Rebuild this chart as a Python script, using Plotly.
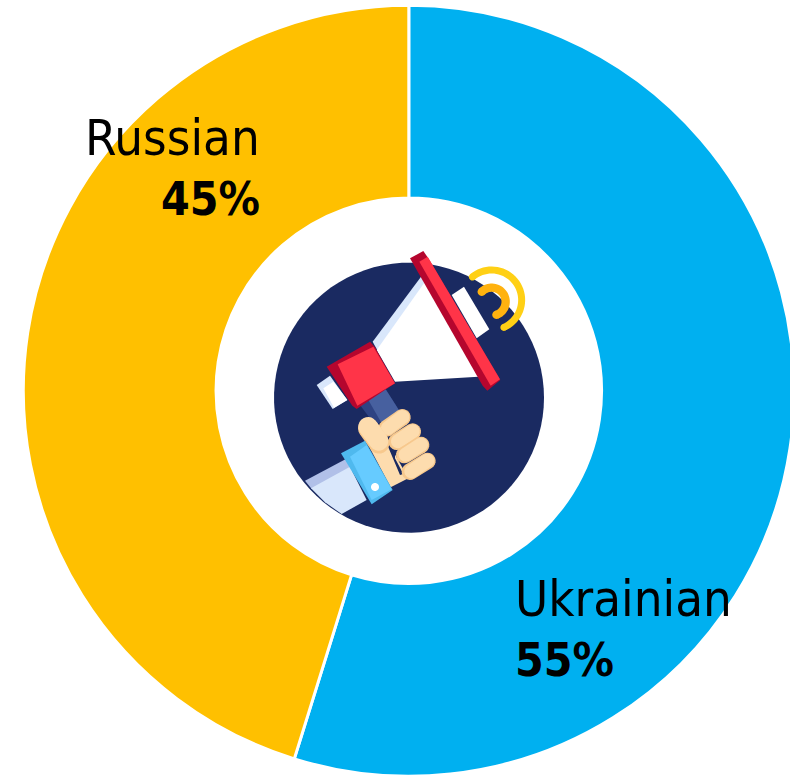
import numpy as np
import plotly.graph_objects as go

languages = ["Ukrainian", "Russian"]
shares = [54.8, 45.2]
share_labels = ["55%", "45%"]
colors = ["#00B0F0", "#FFC000"]

W, H = 796, 778
CX, CY, R = 408.8, 390.8, 385.5
FONT = "DejaVu Sans Condensed, DejaVu Sans"
FS = 50.5
FS_BOLD = 46

def px(x): return x / W
def py(y): return 1 - y / H
def zp(p): return (260 + p[0] / 3, 240 + p[1] / 3)

shapes = []
def poly(points, color):
    pts = [zp(p) for p in points]
    d = "M " + " L ".join(f"{px(x):.5f},{py(y):.5f}" for x, y in pts) + " Z"
    shapes.append(dict(type="path", xref="paper", yref="paper", path=d,
                       fillcolor=color, line=dict(width=0), layer="above"))

def capsule(x1, y1, x2, y2, w, color):
    a = np.arctan2(y2 - y1, x2 - x1)
    t1 = np.linspace(a + np.pi / 2, a + 3 * np.pi / 2, 12)
    t2 = np.linspace(a - np.pi / 2, a + np.pi / 2, 12)
    pts = [(x1 + w / 2 * np.cos(t), y1 + w / 2 * np.sin(t)) for t in t1]
    pts += [(x2 + w / 2 * np.cos(t), y2 + w / 2 * np.sin(t)) for t in t2]
    poly(pts, color)

def arc(cx, cy, r, a0, a1, w, color):
    t = np.radians(np.linspace(a0, a1, 40))
    outer = [(cx + (r + w / 2) * np.cos(v), cy + (r + w / 2) * np.sin(v)) for v in t]
    inner = [(cx + (r - w / 2) * np.cos(v), cy + (r - w / 2) * np.sin(v)) for v in t[::-1]]
    poly(outer + inner, color)
    for v in (t[0], t[-1]):
        capsule(cx + r * np.cos(v), cy + r * np.sin(v), cx + r * np.cos(v) + .1, cy + r * np.sin(v), w, color)

def disc(cx, cy, r, color):
    t = np.linspace(0, 2 * np.pi, 90)[:-1]
    poly([(cx + r * np.cos(v), cy + r * np.sin(v)) for v in t], color)

NAVY = "#1A2A61"
disc(447, 473, 405, NAVY)

# waves
arc(695, 180, 90, -130, 66, 21, "#FFD015")
arc(695, 185, 42, -135, 70, 25, "#FFB20F")

# sleeve (follows the disc edge)
poly([(135, 722), (262, 655), (285, 690), (155, 747)], "#B1C0E8")
poly([(153, 745), (270, 680), (320, 780), (245, 822), (195, 787)], "#D9E7FB")

# handle
poly([(300, 495), (375, 445), (420, 515), (345, 555)], "#2E4383")
poly([(325, 480), (375, 445), (420, 515), (365, 550)], "#47609F")

# horn
poly([(492, 98), (338, 305), (360, 345), (505, 130)], "#D9E7FB")
poly([(495, 125), (655, 410), (405, 425), (350, 330)], "#FFFFFF")
poly([(575, 165), (612, 140), (688, 268), (650, 295)], "#FFFFFF")
poly([(170, 435), (210, 407), (262, 480), (218, 507)], "#D9E7FB")
poly([(190, 445), (220, 425), (262, 480), (222, 503)], "#FFFFFF")

# rim
poly([(450, 55), (490, 33), (505, 55), (721, 420), (682, 452), (668, 437)], "#B5062E")
poly([(478, 65), (503, 50), (720, 418), (692, 437)], "#FF3448")

# speaker
poly([(200, 380), (330, 305), (345, 322), (405, 430), (290, 507), (277, 497)], "#B5062E")
poly([(233, 373), (340, 320), (405, 430), (292, 497)], "#FF3448")

# hand
poly([(330, 625), (375, 590), (445, 715), (392, 742)], "#FDDCAE")
poly([(378, 605), (405, 630), (405, 655), (430, 702), (420, 705)], NAVY)
for x1, y1, x2, y2 in [(380, 565, 427, 532), (410, 605, 458, 575),
                       (433, 645, 483, 615), (450, 695, 502, 663)]:
    capsule(x1, y1, x2, y2, 50, "#F7C88D")
    capsule(x1 + 4, y1 - 1, x2, y2 - 1, 42, "#FDDCAE")
capsule(325, 565, 357, 610, 62, "#F7C88D")
capsule(324, 560, 356, 603, 58, "#FDDCAE")

# cuff
poly([(243, 640), (315, 602), (398, 750), (335, 793)], "#4FB9EE")
poly([(270, 650), (320, 615), (395, 748), (335, 780)], "#66CBFF")
disc(345, 741, 12, "#FFFFFF")

fig = go.Figure(go.Pie(
    labels=languages, values=shares, sort=False, direction="clockwise", rotation=0,
    hole=0.5, textinfo="none", showlegend=False,
    marker=dict(colors=colors, line=dict(color="#FFFFFF", width=3)),
    domain=dict(x=[px(CX - R), px(CX + R)], y=[py(CY + R), py(CY - R)]),
))

def note(text, x, y, anchor, size):
    return dict(text=text, x=px(x), y=py(y), xref="paper", yref="paper", xanchor=anchor,
                yanchor="middle", showarrow=False, align=anchor,
                font=dict(family=FONT, size=size, color="#000000"))

fig.update_layout(
    width=W, height=H, margin=dict(l=0, r=0, t=0, b=0, pad=0),
    paper_bgcolor="#FFFFFF", shapes=shapes,
    annotations=[
        note(languages[1], 262, 137, "right", FS),
        note(f"<b>{share_labels[1]}</b>", 262, 199, "right", FS_BOLD),
        note(languages[0], 513, 598, "left", FS),
        note(f"<b>{share_labels[0]}</b>", 513, 660, "left", FS_BOLD),
    ],
)
fig.write_html("out.html", config=dict(displayModeBar=False),
               post_script="document.documentElement.style.overflow='hidden';document.body.style.margin='0';document.body.style.overflow='hidden';")
